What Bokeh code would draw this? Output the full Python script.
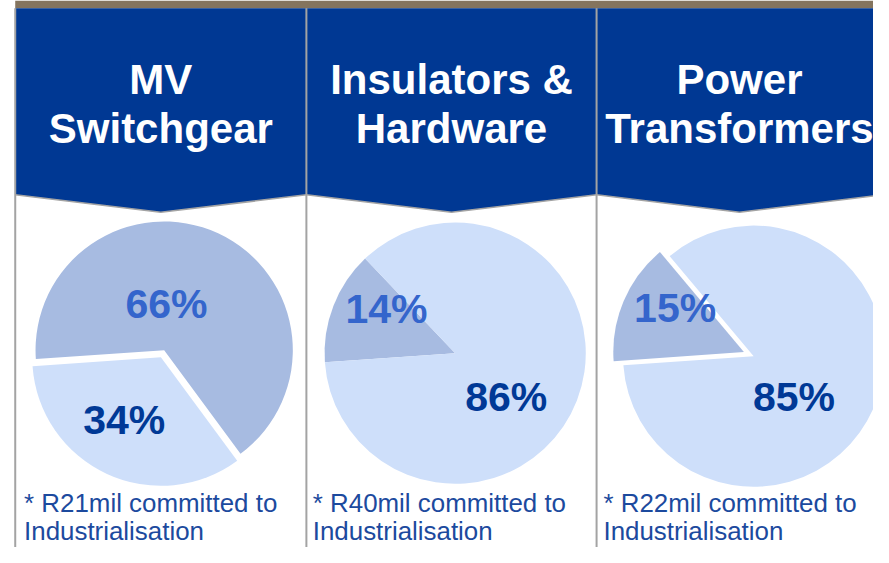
import numpy as np
from bokeh.plotting import figure
from bokeh.models import Range1d
from bokeh.embed import file_html
from bokeh.resources import INLINE
from bokeh.core.properties import value

# ---------------- data ----------------
header_line1 = ["MV", "Insulators &", "Power"]
header_line2 = ["Switchgear", "Hardware", "Transformers"]
share_first = [66, 14, 15]      # darker slice
share_second = [34, 86, 85]     # lighter slice
committed = ["R21mil", "R40mil", "R22mil"]
note_line2 = ["Industrialisation", "Industrialisation", "Industrialisation"]

# ---------------- layout (reference pixel space) ----------------
REF_W, REF_H = 889, 563
W, H = 873, 547
S = (W / REF_W + H / REF_H) / 2.0
BASE_FIX = 0.36   # shift (in em) to put glyph baselines where intended

def fy(y):
    return REF_H - y

def ty(baseline, size):
    return fy(baseline) + BASE_FIX * size

panel_left = [15, 311.5, 607]
panel_right = [311.5, 607, 898]
header_top, header_side, header_tip = 8, 200, 218
pie_cx = [165, 463, 762]
pie_cy = [363.5, 363, 364]
pie_r = [131, 133, 133]
explode = [[4, 4], [0, 0], [5.4, 5.4]]
start_deg = 184.0
label_first_xy = [(169, 328), (393, 333), (687, 332)]
label_second_xy = [(126, 447), (515, 423), (808, 423)]
note_x = [24, 318, 614]
note_y = [527, 556]

HEAD_SIZE, LABEL_SIZE, NOTE_SIZE = 43, 42, 26.5

BLUE = "#003893"
BROWN = "#84745E"
GRAY = "#A3A3A3"
DARK_SLICE = "#A7BBE1"
LIGHT_SLICE = "#CEDFFA"
MID_TEXT = "#3465CC"
DARK_TEXT = "#003996"
NOTE_TEXT = "#1C4A9E"
FONT = value("Liberation Sans")

def px(v):
    return f"{v * S:.1f}px"

p = figure(width=W, height=H, output_backend="svg", toolbar_location=None,
           x_range=Range1d(0, REF_W), y_range=Range1d(0, REF_H),
           min_border=0, outline_line_color=None, background_fill_color="white",
           border_fill_color="white")
p.axis.visible = False
p.grid.visible = False

# brown top bar
p.quad(left=[15], right=[REF_W], bottom=[fy(8)], top=[fy(0)], fill_color=BROWN, line_color=None)

# header chevrons
xs, ys = [], []
for l, r in zip(panel_left, panel_right):
    m = (l + r) / 2.0
    xs.append([l, r, r, m, l])
    ys.append([fy(header_top), fy(header_top), fy(header_side), fy(header_tip), fy(header_side)])
p.patches(xs, ys, fill_color=BLUE, line_color=None)
for l, r in zip(panel_left, panel_right):
    m = (l + r) / 2.0
    p.line([l, m, r], [fy(header_side), fy(header_tip), fy(header_side)], line_color=GRAY, line_width=1.5)

# vertical dividers
p.segment(x0=panel_left, y0=[fy(header_top)] * 3, x1=panel_left, y1=[fy(REF_H)] * 3,
          line_color=GRAY, line_width=2)

# header texts
for i, (l, r) in enumerate(zip(panel_left, panel_right)):
    m = (l + r) / 2.0
    p.text(x=[m, m], y=[ty(97, HEAD_SIZE), ty(147, HEAD_SIZE)],
           text=[header_line1[i], header_line2[i]],
           text_font=FONT, text_font_style="bold", text_font_size=px(HEAD_SIZE),
           text_color="white", text_align="center", text_baseline="alphabetic")

# pies
for i in range(3):
    vals = [share_first[i], share_second[i]]
    cols = [DARK_SLICE, LIGHT_SLICE]
    cum = 0.0
    for j, v in enumerate(vals):
        a0 = np.deg2rad(start_deg - cum * 3.6)
        a1 = np.deg2rad(start_deg - (cum + v) * 3.6)
        mid = (a0 + a1) / 2.0
        ex = explode[i][j]
        cx = pie_cx[i] + ex * np.cos(mid)
        cy = fy(pie_cy[i]) + ex * np.sin(mid)
        p.wedge(x=[cx], y=[cy], radius=pie_r[i], start_angle=[a0], end_angle=[a1],
                direction="clock", fill_color=cols[j], line_color=None)
        cum += v

# percentage labels
for i in range(3):
    x1, y1 = label_first_xy[i]
    x2, y2 = label_second_xy[i]
    p.text(x=[x1], y=[ty(y1, LABEL_SIZE)], text=[f"{share_first[i]}%"], text_font=FONT,
           text_font_style="bold", text_font_size=px(LABEL_SIZE), text_color=MID_TEXT,
           text_align="center", text_baseline="alphabetic")
    p.text(x=[x2], y=[ty(y2, LABEL_SIZE)], text=[f"{share_second[i]}%"], text_font=FONT,
           text_font_style="bold", text_font_size=px(LABEL_SIZE), text_color=DARK_TEXT,
           text_align="center", text_baseline="alphabetic")

# notes
for i in range(3):
    p.text(x=[note_x[i], note_x[i]], y=[ty(note_y[0], NOTE_SIZE), ty(note_y[1], NOTE_SIZE)],
           text=[f"* {committed[i]} committed to", note_line2[i]],
           text_font=FONT, text_font_size=px(NOTE_SIZE), text_color=NOTE_TEXT,
           text_align="left", text_baseline="alphabetic")

open("out.html", "w").write(file_html(p, INLINE))
